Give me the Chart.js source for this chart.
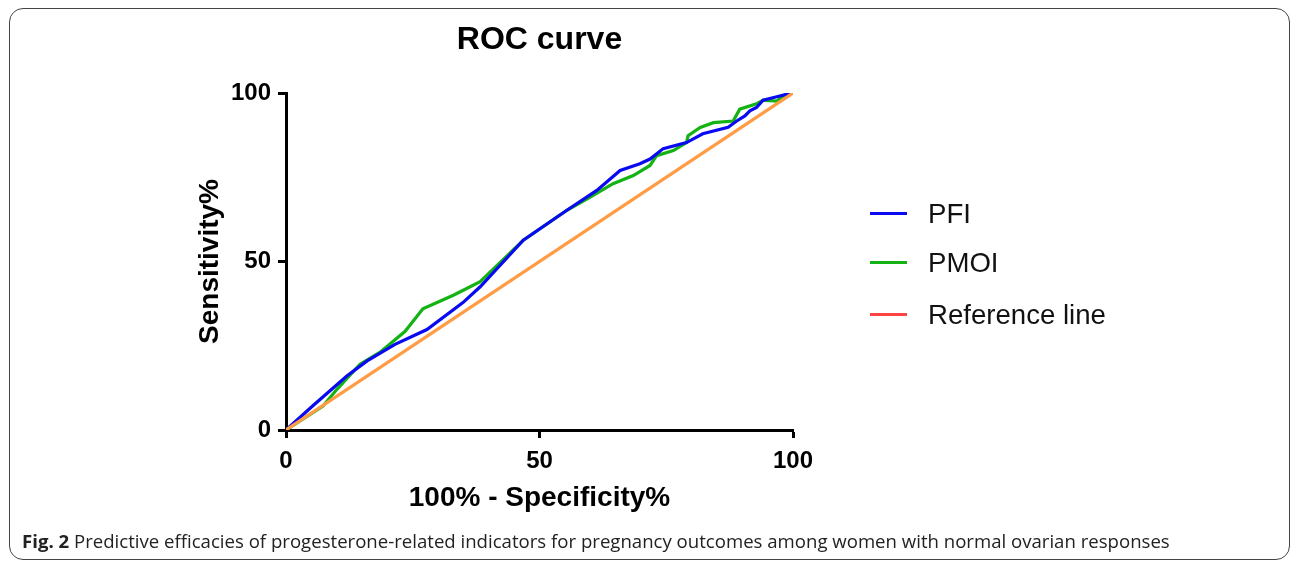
<!DOCTYPE html>
<html>
<head>
<meta charset="utf-8">
<script src="https://cdn.jsdelivr.net/npm/chart.js@4/dist/chart.umd.min.js"></script>
<style>
    html, body { margin: 0; padding: 0; background: #fff; }
    body { width: 1293px; height: 561px; position: relative; overflow: hidden; }
    #roc { position: absolute; left: 0; top: 0; }
    .frame {
        position: absolute; left: 9px; top: 8px; width: 1279px; height: 550px;
        border: 1.5px solid #444; border-radius: 14px; pointer-events: none;
    }
    .legend { position: absolute; left: 870px; top: 0; font-family: "Liberation Sans", Arial, sans-serif; font-size: 27.6px; color: #111; }
    .legend .item { position: absolute; left: 0; white-space: nowrap; height: 32px; line-height: 32px; }
    .legend .swatch { position: absolute; left: 0; top: 14px; width: 37px; height: 3px; }
    .legend .label { position: absolute; left: 58px; top: 0; }
    .caption {
        position: absolute; left: 22px; top: 528px; font-family: "Open Sans", sans-serif;
        font-size: 18.6px; color: #222; white-space: nowrap;
    }
    .caption b { font-weight: 700; }
</style>
</head>
<body>
<canvas id="roc" width="1293" height="561"></canvas>
<div class="frame"></div>
<div class="legend" id="legend"></div>
<div class="caption"><b>Fig. 2</b> Predictive efficacies of progesterone-related indicators for pregnancy outcomes among women with normal ovarian responses</div>

<script>
/* ========= DATA ========= */
var pfiX = [0, 5.3, 12, 16, 21.5, 27.8, 34.9, 38.3, 46.8, 55.4, 61.3, 65.9, 69.8, 71.8, 74.4, 79, 82.2, 87.2, 88.9, 90.5, 91.5, 92.8, 94.1, 96.8, 98.7, 100];
var pfiY = [0, 7.2, 16, 20.5, 25.4, 29.8, 37.8, 42.5, 56.3, 65.2, 71.1, 77, 79, 80.4, 83.5, 85.3, 87.9, 89.8, 91.7, 93.2, 94.7, 95.7, 97.9, 98.9, 99.6, 100];

var pmoiX = [0, 7.3, 10, 14.6, 18.5, 23.5, 27, 33, 38.3, 46.8, 55.4, 60, 64.5, 68.5, 71.8, 73.1, 76.4, 79, 79.3, 81.7, 84.3, 88.2, 89.5, 92.8, 94.1, 96.8, 98.5, 100];
var pmoiY = [0, 7.1, 12, 19.5, 23, 29.3, 36, 40, 44, 56.3, 65.2, 69.1, 73.1, 75.5, 78.5, 81.4, 82.9, 85.3, 87.3, 89.8, 91.2, 91.7, 95.2, 96.8, 97.9, 97.6, 99.5, 100];

var refX = [0, 100];
var refY = [0, 100];

var xTicks = [0, 50, 100];
var yTicks = [0, 50, 100];

var legendItems = [
    { text: 'PFI', color: '#0a0af0' },
    { text: 'PMOI', color: '#13b313' },
    { text: 'Reference line', color: '#ff4343' }
];

function toPoints(xs, ys) {
    return xs.map(function (x, i) { return { x: x, y: ys[i] }; });
}

/* ========= CHART ========= */
var axisFont = { family: '"Liberation Sans", Arial, sans-serif', weight: 'bold' };

function axisCommon(ticks) {
    return {
        type: 'linear',
        min: 0,
        max: 100,
        afterBuildTicks: function (scale) {
            scale.ticks = ticks.map(function (v) { return { value: v }; });
        },
        grid: {
            display: true,
            drawOnChartArea: false,
            drawTicks: true,
            tickLength: 8,
            tickWidth: 3,
            tickColor: '#000',
            color: '#000'
        },
        border: { display: true, color: '#000', width: 3 }
    };
}

var xAxis = axisCommon(xTicks);
xAxis.position = 'bottom';
xAxis.ticks = { color: '#000', padding: 9, maxRotation: 0, font: Object.assign({ size: 24 }, axisFont) };
xAxis.title = {
    display: true, text: '100% - Specificity%', color: '#000',
    padding: { top: 0, bottom: 46 }, font: Object.assign({ size: 28 }, axisFont)
};
xAxis.afterFit = function (scale) { scale.height = 131; };

var yAxis = axisCommon(yTicks);
yAxis.position = 'left';
yAxis.ticks = { color: '#000', padding: 7, font: Object.assign({ size: 24 }, axisFont) };
yAxis.title = {
    display: true, text: 'Sensitivity%', color: '#000',
    padding: 0, font: Object.assign({ size: 28 }, axisFont)
};
yAxis.afterFit = function (scale) { scale.width = 93; };

new Chart(document.getElementById('roc'), {
    type: 'line',
    data: {
        datasets: [{
            label: 'PFI',
            data: toPoints(pfiX, pfiY),
            borderColor: '#0a0af0',
            borderWidth: 3.2,
            order: 1
        }, {
            label: 'PMOI',
            data: toPoints(pmoiX, pmoiY),
            borderColor: '#13b313',
            borderWidth: 3.2,
            order: 2
        }, {
            label: 'Reference line',
            data: toPoints(refX, refY),
            borderColor: '#ff9c45',
            borderWidth: 3.2,
            order: 0
        }]
    },
    options: {
        responsive: false,
        animation: false,
        devicePixelRatio: 1,
        layout: { padding: { left: 193, right: 500, top: 0, bottom: 0 } },
        elements: {
            point: { radius: 0 },
            line: { tension: 0, fill: false, borderCapStyle: 'butt', borderJoinStyle: 'miter' }
        },
        plugins: {
            legend: { display: false },
            tooltip: { enabled: false },
            title: {
                display: true,
                fullSize: false,
                text: 'ROC curve',
                color: '#000',
                padding: { top: 21, bottom: 33.6 },
                font: Object.assign({ size: 32 }, axisFont)
            }
        },
        scales: { x: xAxis, y: yAxis }
    }
});

/* ========= LEGEND ========= */
var legend = document.getElementById('legend');
var legendTops = [198, 247, 299];
legendItems.forEach(function (it, i) {
    var row = document.createElement('div');
    row.className = 'item';
    row.style.top = legendTops[i] + 'px';
    row.innerHTML = '<span class="swatch" style="background:' + it.color + '"></span><span class="label">' + it.text + '</span>';
    legend.appendChild(row);
});
</script>
</body>
</html>
